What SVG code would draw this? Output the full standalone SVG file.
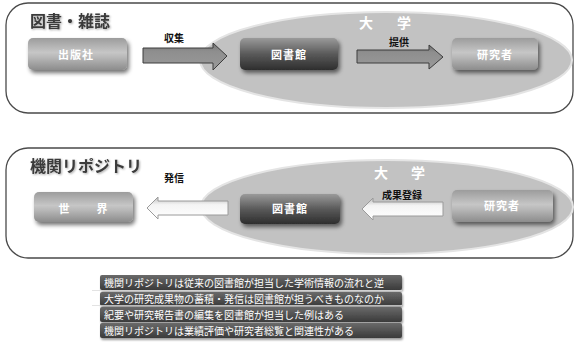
<svg xmlns="http://www.w3.org/2000/svg" width="574" height="347" viewBox="0 0 574 347">
<defs>
<style>
.panel{fill:#fff;stroke:#4a4a4a;stroke-width:1.3}
.ell{fill:#c2c2c2;stroke:#e4e4e4;stroke-width:2}
.title{font-family:"Noto Sans CJK JP","Noto Sans CJK SC",sans-serif;font-size:16px;font-weight:700;fill:#3a3a3a}
.lbl{font-family:"Noto Sans CJK JP","Noto Sans CJK SC",sans-serif;font-size:11px;font-weight:700;fill:#fff;text-anchor:middle}
.uni{font-family:"Noto Sans CJK JP","Noto Sans CJK SC",sans-serif;font-size:14px;font-weight:700;fill:#fff;text-anchor:middle}
.alab{font-family:"Noto Sans CJK JP","Noto Sans CJK SC",sans-serif;font-size:10px;font-weight:700;fill:#111;text-anchor:middle}
.row{font-family:"Noto Sans CJK JP","Noto Sans CJK SC",sans-serif;font-size:10px;fill:#fff}
.light{fill:url(#gLight);filter:url(#sh)}
.dark{fill:url(#gDark);filter:url(#sh)}
.bar{fill:url(#gBar);filter:url(#shs)}
</style>
<linearGradient id="gLight" x1="0" y1="0" x2="0" y2="1">
<stop offset="0" stop-color="#9c9c9c"/>
<stop offset="0.45" stop-color="#c6c6c6"/>
<stop offset="0.6" stop-color="#b8b8b8"/>
<stop offset="1" stop-color="#8c8c8c"/>
</linearGradient>
<linearGradient id="gDark" x1="0" y1="0" x2="0" y2="1">
<stop offset="0" stop-color="#9a9a9a"/>
<stop offset="0.5" stop-color="#5a5a5a"/>
<stop offset="1" stop-color="#2e2e2e"/>
</linearGradient>
<linearGradient id="gBar" x1="0" y1="0" x2="0" y2="1">
<stop offset="0" stop-color="#6a6a6a"/>
<stop offset="1" stop-color="#3a3a3a"/>
</linearGradient>
<linearGradient id="gArrow" x1="0" y1="0" x2="0" y2="1">
<stop offset="0" stop-color="#707070"/>
<stop offset="0.3" stop-color="#8e8e8e"/>
<stop offset="1" stop-color="#9a9a9a"/>
</linearGradient>
<linearGradient id="gWArrow" x1="0" y1="0" x2="0" y2="1">
<stop offset="0" stop-color="#bdbdbd"/>
<stop offset="0.35" stop-color="#f4f4f4"/>
<stop offset="1" stop-color="#ffffff"/>
</linearGradient>
<filter id="sh" x="-20%" y="-30%" width="140%" height="170%">
<feGaussianBlur in="SourceAlpha" stdDeviation="2"/>
<feOffset dx="2" dy="3" result="b"/>
<feComponentTransfer><feFuncA type="linear" slope="0.55"/></feComponentTransfer>
<feMerge><feMergeNode/><feMergeNode in="SourceGraphic"/></feMerge>
</filter>
<filter id="shs" x="-5%" y="-30%" width="110%" height="170%">
<feGaussianBlur in="SourceAlpha" stdDeviation="1.2"/>
<feOffset dx="1" dy="1.5"/>
<feComponentTransfer><feFuncA type="linear" slope="0.4"/></feComponentTransfer>
<feMerge><feMergeNode/><feMergeNode in="SourceGraphic"/></feMerge>
</filter>
<filter id="tsh" x="-10%" y="-30%" width="120%" height="160%">
<feGaussianBlur in="SourceAlpha" stdDeviation="0.8"/>
<feOffset dx="1" dy="1"/>
<feComponentTransfer><feFuncA type="linear" slope="0.35"/></feComponentTransfer>
<feMerge><feMergeNode/><feMergeNode in="SourceGraphic"/></feMerge>
</filter>
</defs>

<g id="panel-top">
<rect class="panel" x="6" y="3" width="567" height="110" rx="22"/>
<text class="title" x="30" y="27" filter="url(#tsh)">図書・雑誌</text>
</g>
<g id="univ-top">
<ellipse class="ell" cx="386" cy="60" rx="186" ry="48"/>
<text class="uni" x="366" y="28">大</text>
<text class="uni" x="404" y="28">学</text>
</g>

<g id="panel-bottom">
<rect class="panel" x="6" y="148" width="567" height="110" rx="22"/>
<text class="title" x="30" y="172" filter="url(#tsh)">機関リポジトリ</text>
</g>
<g id="univ-bottom">
<ellipse class="ell" cx="387" cy="207" rx="186" ry="47"/>
<text class="uni" x="381" y="178">大</text>
<text class="uni" x="418" y="178">学</text>
</g>

<g id="connectors">
<g id="arrow-shushu">
<path d="M143 48 H213 V43 L227 56 L213 70 V63 H143 Z" fill="url(#gArrow)" stroke="#3c3c3c" stroke-width="1"/>
<text class="alab" x="174" y="42">収集</text>
</g>
<g id="arrow-teikyo">
<path d="M357 50 H429 V45 L443 57 L429 69 V63 H357 Z" fill="url(#gArrow)" stroke="#3c3c3c" stroke-width="1"/>
<text class="alab" x="399" y="46">提供</text>
</g>
<g id="arrow-hasshin">
<path d="M228 201 H158 V197 L147 208 L158 219 V215 H228 Z" fill="url(#gWArrow)" stroke="#9a9a9a" stroke-width="1"/>
<text class="alab" x="174" y="182">発信</text>
</g>
<g id="arrow-touroku">
<path d="M443 202 H373 V198 L362 209 L373 220 V216 H443 Z" fill="url(#gWArrow)" stroke="#9a9a9a" stroke-width="1"/>
<text class="alab" x="402" y="199">成果登録</text>
</g>
</g>

<g id="node-shuppansha">
<rect class="light" x="28" y="38" width="99" height="32" rx="5"/>
<text class="lbl" x="76" y="59" letter-spacing="1">出版社</text>
</g>
<g id="node-toshokan-top">
<rect class="dark" x="240" y="38" width="98" height="32" rx="5"/>
<text class="lbl" x="289" y="59" letter-spacing="1">図書館</text>
</g>
<g id="node-kenkyusha-top">
<rect class="light" x="452" y="38" width="86" height="32" rx="5"/>
<text class="lbl" x="495" y="59" letter-spacing="1">研究者</text>
</g>

<g id="node-sekai">
<rect class="light" x="34" y="192" width="99" height="30" rx="5"/>
<text class="lbl" x="64" y="213">世</text>
<text class="lbl" x="102" y="213">界</text>
</g>
<g id="node-toshokan-bottom">
<rect class="dark" x="240" y="194" width="100" height="30" rx="5"/>
<text class="lbl" x="290" y="213" letter-spacing="1">図書館</text>
</g>
<g id="node-kenkyusha-bottom">
<rect class="light" x="452" y="190" width="101" height="32" rx="5"/>
<text class="lbl" x="502" y="210" letter-spacing="1">研究者</text>
</g>

<g id="notes">
<rect class="bar" x="100" y="275" width="302" height="15" rx="2"/>
<rect class="bar" x="100" y="292" width="302" height="14" rx="2"/>
<rect class="bar" x="100" y="307" width="302" height="15" rx="2"/>
<rect class="bar" x="100" y="323" width="302" height="15" rx="2"/>
<line x1="92" y1="290.5" x2="402" y2="290.5" stroke="#dcdcdc" stroke-width="0.8"/>
<line x1="92" y1="305.5" x2="402" y2="305.5" stroke="#dcdcdc" stroke-width="0.8"/>
<text class="row" x="104" y="287">機関リポジトリは従来の図書館が担当した学術情報の流れと逆</text>
<text class="row" x="104" y="303">大学の研究成果物の蓄積・発信は図書館が担うべきものなのか</text>
<text class="row" x="104" y="319">紀要や研究報告書の編集を図書館が担当した例はある</text>
<text class="row" x="104" y="335">機関リポジトリは業績評価や研究者総覧と関連性がある</text>
</g>
</svg>
